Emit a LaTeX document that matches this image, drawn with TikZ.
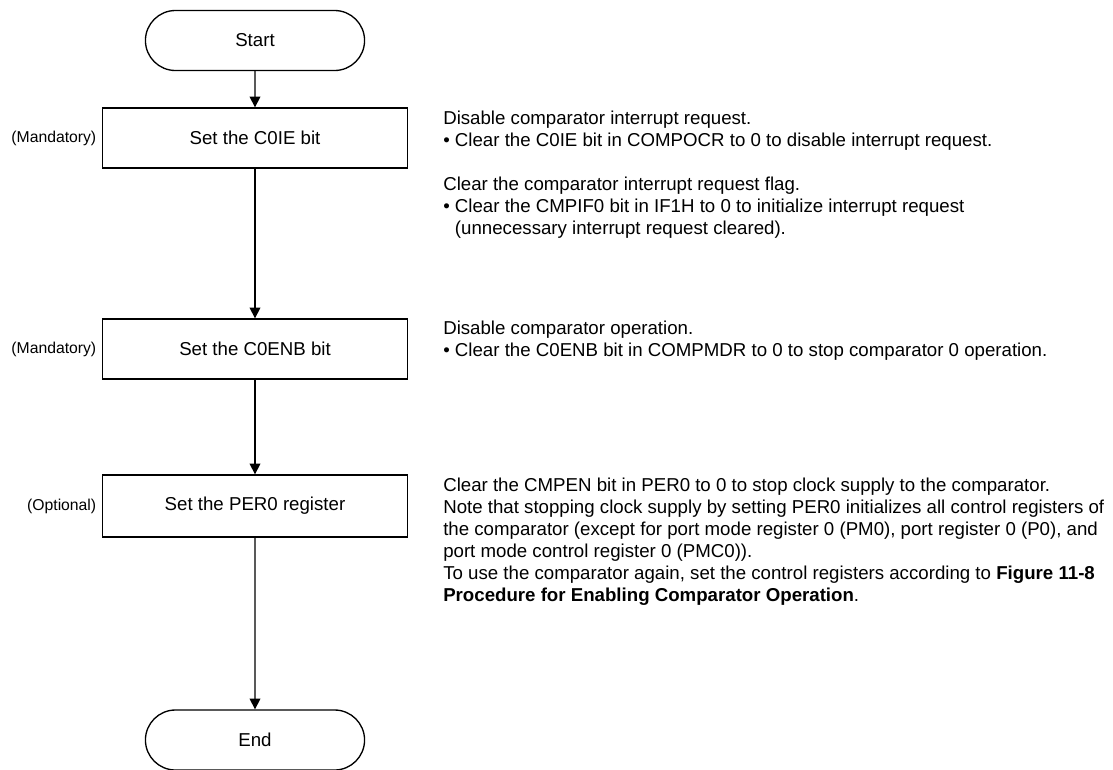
\documentclass[tikz,border=0pt]{standalone}
\usepackage{fontspec}
\setmainfont{Liberation Sans}
\usetikzlibrary{shapes.misc,arrows.meta,positioning}

\begin{document}
\begin{tikzpicture}[x=0.75pt,y=-0.75pt,
  termnode/.style={draw,rounded rectangle,line width=1pt,minimum width=171pt,minimum height=45pt,font=\fontsize{14}{16}\selectfont},
  procbox/.style={draw,rectangle,line width=1pt,minimum width=228.75pt,minimum height=45pt,font=\fontsize{14}{16}\selectfont},
  tagnode/.style={inner sep=1pt,font=\fontsize{11.8}{14}\selectfont},
  notenode/.style={anchor=north west,inner sep=0pt,align=left,font=\fontsize{14}{16.5}\selectfont},
  flowarrow/.style={-{Triangle[width=8pt,length=8pt]},line width=1pt}]
\useasboundingbox (0,0) rectangle (1113,769);

% Flow steps
\node[termnode] (start) at (255,40.5) {Start};
\node[procbox] (c0ie) at (255,138) {Set the C0IE bit};
\node[procbox] (c0enb) at (255,349) {Set the C0ENB bit};
\node[procbox,minimum height=46.5pt] (per0) at (255,506) {Set the PER0 register};
\node[termnode] (end) at (255,740) {End};

% Step tags
\node[tagnode,left=3pt of c0ie] (tag1) {(Mandatory)};
\node[tagnode,left=3pt of c0enb] (tag2) {(Mandatory)};
\node[tagnode,left=3pt of per0] (tag3) {(Optional)};

% Arrows
\draw[flowarrow] (start) -- (c0ie);
\draw[flowarrow] (c0ie) -- (c0enb);
\draw[flowarrow] (c0enb) -- (per0);
\draw[flowarrow] (per0) -- (end);

% Notes
\node[notenode] (note1) at (443,111) {Disable comparator interrupt request.\\
  • Clear the C0IE bit in COMPOCR to 0 to disable interrupt request.\\[16.5pt]
  Clear the comparator interrupt request flag.\\
  • Clear the CMPIF0 bit in IF1H to 0 to initialize interrupt request\\
  \hphantom{• }(unnecessary interrupt request cleared).};
\node[notenode] (note2) at (443,321) {Disable comparator operation.\\
  • Clear the C0ENB bit in COMPMDR to 0 to stop comparator 0 operation.};
\node[notenode] (note3) at (443,478) {Clear the CMPEN bit in PER0 to 0 to stop clock supply to the comparator.\\
  Note that stopping clock supply by setting PER0 initializes all control registers of\\
  the comparator (except for port mode register 0 (PM0), port register 0 (P0), and\\
  port mode control register 0 (PMC0)).\\
  To use the comparator again, set the control registers according to \textbf{Figure 11-8}\\
  \textbf{Procedure for Enabling Comparator Operation}.};
\end{tikzpicture}
\end{document}
